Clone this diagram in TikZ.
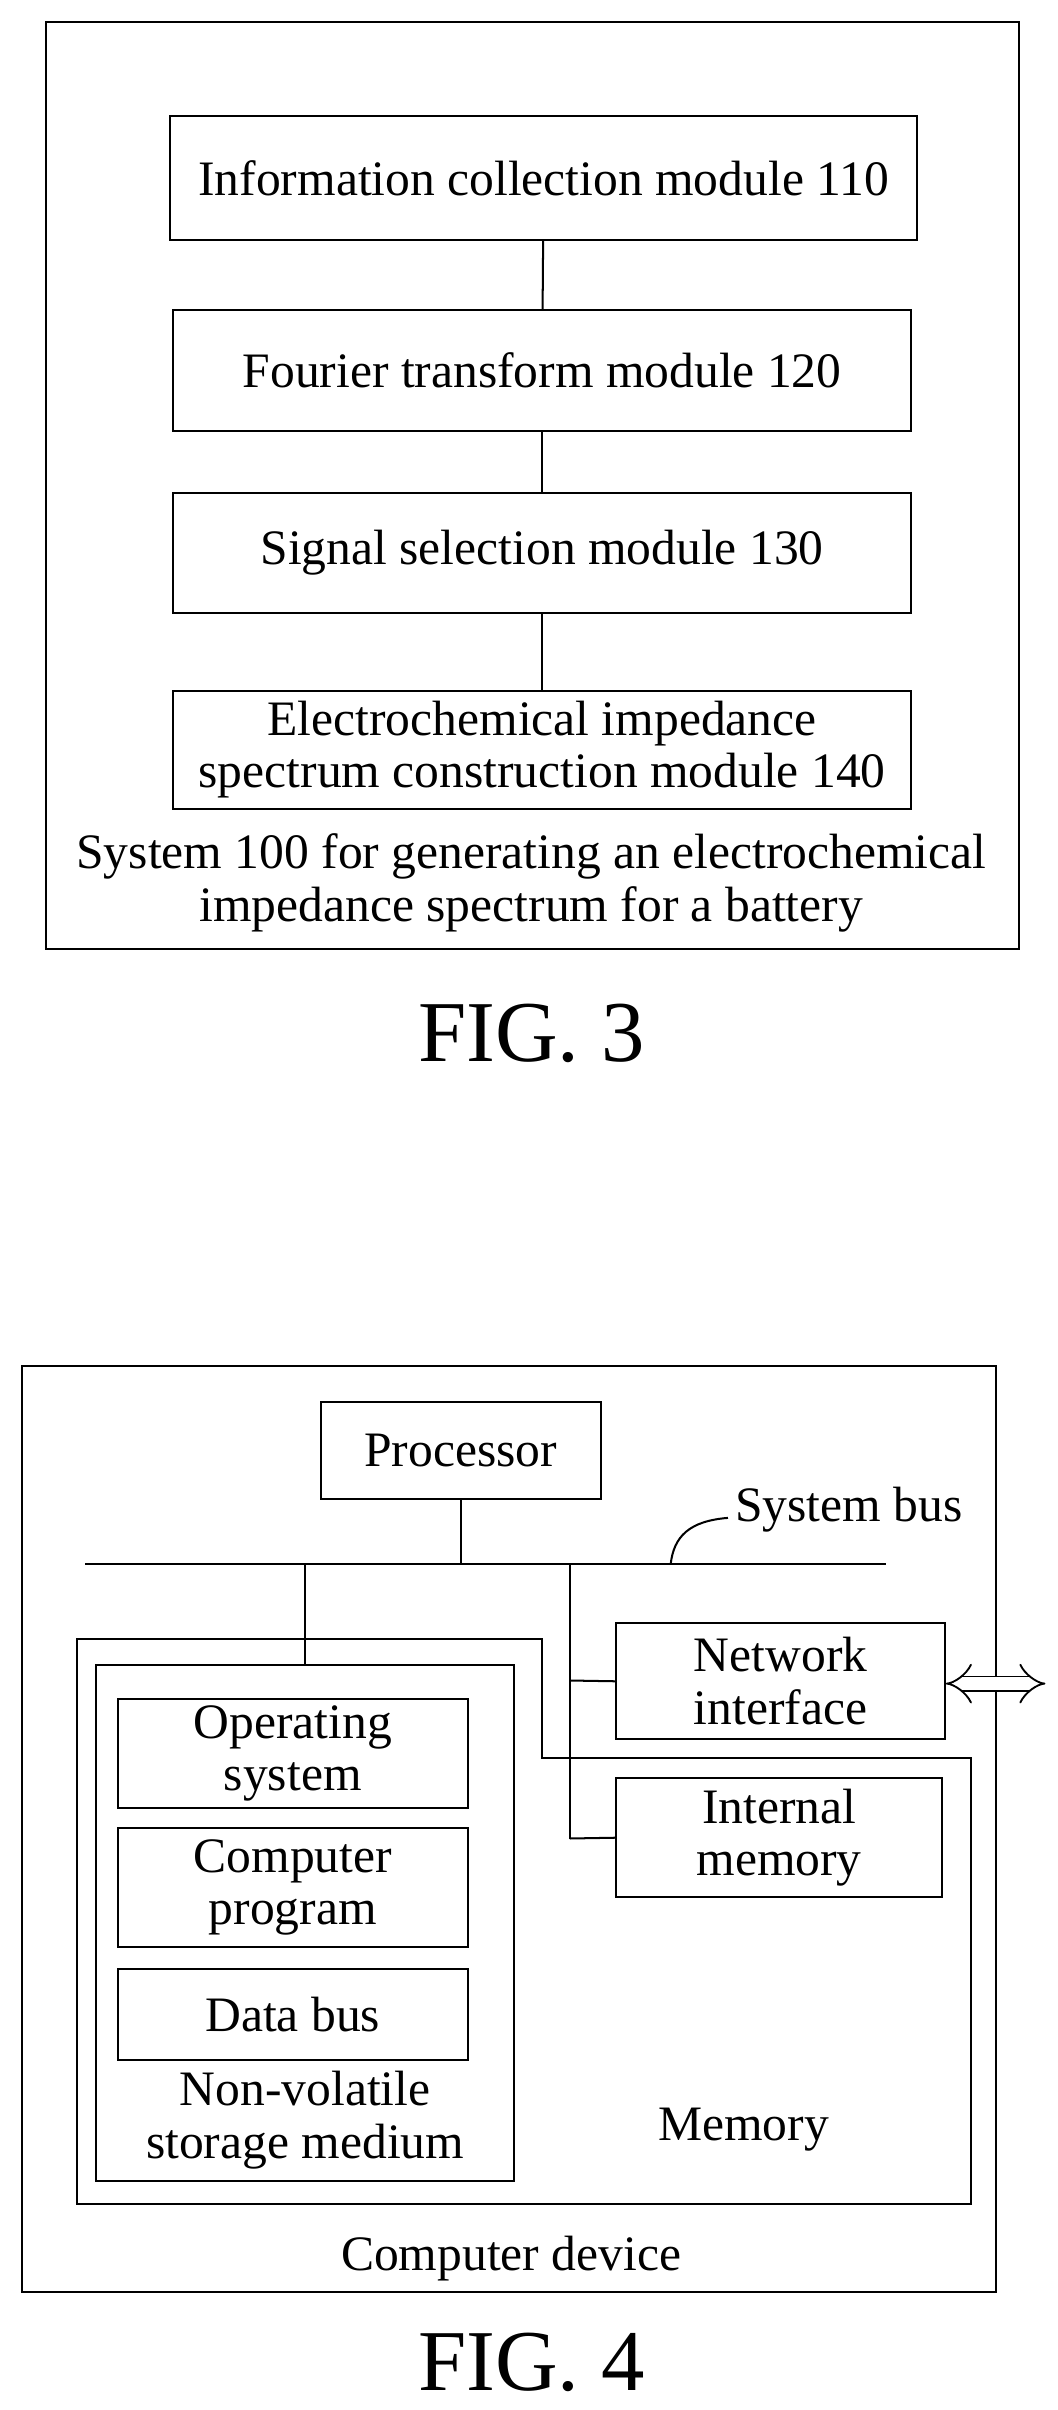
\documentclass[tikz,border=0pt]{standalone}
\usepackage{fontspec}
\setmainfont{Liberation Serif}
\usetikzlibrary{arrows.meta}
\begin{document}
\begin{tikzpicture}[x=1pt,y=-1pt,line width=1.3pt,
  bx/.style={draw,align=center,font=\fontsize{32}{34}\selectfont,inner sep=0},
  tx/.style={align=center,font=\fontsize{32}{34}\selectfont,inner sep=0},
  fig/.style={font=\fontsize{56}{58}\selectfont,inner sep=0}]
\useasboundingbox[fill=white] (0,0) rectangle (683,1556);
% FIG 3
\draw (30,14) rectangle (658,613);
\node[bx,minimum width=482,minimum height=80] (b1) at (351,115) {Information collection module 110};
\node[bx,minimum width=476,minimum height=78] (b2) at (350,239) {Fourier transform module 120};
\node[bx,minimum width=476,minimum height=78] (b3) at (350,357) {Signal selection module 130};
\node[bx,minimum width=476,minimum height=76] (b4) at (350,484) {Electrochemical impedance\\spectrum construction module 140};
\draw (b1) -- (b2); \draw (b2) -- (b3); \draw (b3) -- (b4);
\node[tx] (cap3) at (343,570) {System 100 for generating an electrochemical\\impedance spectrum for a battery};
\node[fig] (f3) at (343,667) {FIG. 3};
% FIG 4
\draw (14,882) rectangle (643,1480);
\node[bx,minimum width=181,minimum height=63] (proc) at (297.5,936.5) {Processor};
\coordinate (busL) at (55,1010); \coordinate (busR) at (572,1010);
\draw (busL) -- (busR);
\coordinate (pb) at (proc.south|-busL);
\draw (proc.south) -- (pb);
\node[tx] (sb) at (548,975) {System bus};
\coordinate (sbc) at (433,1010);
\draw (sb.west) ++(-4,5) .. controls (445,982) and (435,992) .. (sbc);
\draw (50,1058) -- (350,1058) -- (350,1135) -- (627,1135) -- (627,1423) -- (50,1423) -- cycle;
\draw (62,1075) rectangle (332,1408);
\coordinate (nvt) at (197,1075);
\coordinate (nvb) at (197,1010);
\draw (nvb) -- (nvt);
\node[bx,minimum width=212,minimum height=75] (net) at (504,1085.5) {Network\\interface};
\node[bx,minimum width=210,minimum height=77] (mem) at (503,1186.5) {Internal\\memory};
\coordinate (v1) at (368,1010); \coordinate (v2) at (368,1187);
\draw (v1) -- (v2);
\draw (368,1085) -- (net.west);
\draw (v2) -- (mem.west);
\coordinate (arr) at (675,1087);
\draw[double,double distance=8pt,line width=1.2pt,{Implies[length=10pt]}-{Implies[length=10pt]}] (net.east|-arr) -- (arr);
\node[bx,minimum width=226,minimum height=70] (os) at (189,1132) {Operating\\system};
\node[bx,minimum width=226,minimum height=77] (cp) at (189,1218.5) {Computer\\program};
\node[bx,minimum width=226,minimum height=59] (db) at (189,1300.5) {Data bus};
\node[tx] (nv) at (197,1369) {Non-volatile\\storage medium};
\node[tx] (memt) at (480,1375) {Memory};
\node[tx] (cd) at (330,1458) {Computer device};
\node[fig] (f4) at (343,1525) {FIG. 4};
\end{tikzpicture}
\end{document}
